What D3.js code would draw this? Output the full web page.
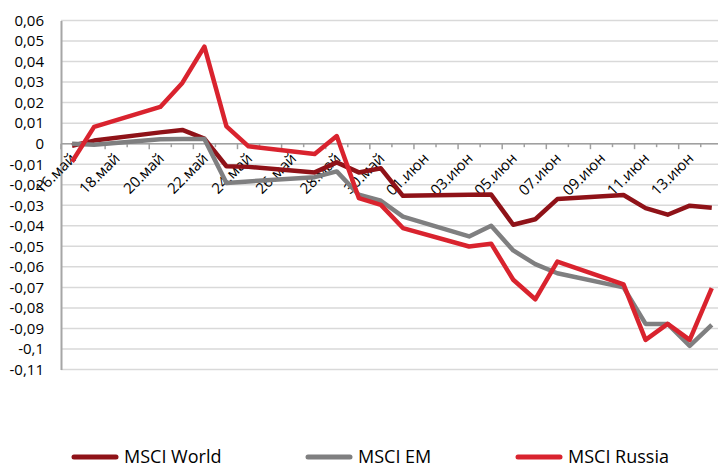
<!DOCTYPE html>
<html>
<head>
<meta charset="utf-8">
<script src="https://cdn.jsdelivr.net/npm/d3@7"></script>
<style>
  body { margin: 0; background: #fff; }
  svg { display: block; font-family: "Open Sans", "Noto Sans", sans-serif; }
</style>
</head>
<body>
<div id="chart"></div>
<script>
// trading days shown on the chart (2019)
const dates = [
  "2019-05-16", "2019-05-17", "2019-05-20", "2019-05-21", "2019-05-22",
  "2019-05-23", "2019-05-24", "2019-05-27", "2019-05-28", "2019-05-29",
  "2019-05-30", "2019-05-31", "2019-06-03", "2019-06-04", "2019-06-05",
  "2019-06-06", "2019-06-07", "2019-06-10", "2019-06-11", "2019-06-12",
  "2019-06-13", "2019-06-14"
];

const msciWorld = [
  -0.001, 0.0015, 0.0055, 0.0067, 0.0025, -0.011, -0.0113, -0.014, -0.0091, -0.014,
  -0.012, -0.0254, -0.0249, -0.0248, -0.0395, -0.0368, -0.027, -0.025, -0.0314, -0.0346,
  -0.0302, -0.0312
];
const msciEM = [
  0.0, -0.0005, 0.0022, 0.0023, 0.0023, -0.0192, -0.0184, -0.0163, -0.0135, -0.0249,
  -0.0278, -0.0355, -0.0452, -0.040, -0.052, -0.0587, -0.0631, -0.070, -0.0878, -0.0878,
  -0.0985, -0.0883
];
const msciRussia = [
  -0.0088, 0.0082, 0.0179, 0.0296, 0.0473, 0.0084, -0.0013, -0.005, 0.0037, -0.0265,
  -0.0298, -0.0411, -0.0501, -0.0487, -0.0663, -0.0758, -0.0574, -0.0685, -0.0956, -0.0878,
  -0.0956, -0.0704
];

const seriesNames = ["MSCI World", "MSCI EM", "MSCI Russia"];

// x tick labels, every second calendar day
const tickDates = [
  "2019-05-16", "2019-05-18", "2019-05-20", "2019-05-22", "2019-05-24", "2019-05-26",
  "2019-05-28", "2019-05-30", "2019-06-01", "2019-06-03", "2019-06-05", "2019-06-07",
  "2019-06-09", "2019-06-11", "2019-06-13"
];
const tickLabels = [
  "16.май", "18.май", "20.май", "22.май", "24.май", "26.май", "28.май", "30.май",
  "01.июн", "03.июн", "05.июн", "07.июн", "09.июн", "11.июн", "13.июн"
];

const width = 718;
const height = 468;
const margin = { top: 20.5, right: -4.8, bottom: 98.5, left: 61 };
const colors = ["#8f1218", "#7f7f80", "#d9232e"];

const parse = d3.timeParse("%Y-%m-%d");
const noon = (s) => d3.timeHour.offset(parse(s), 12);

const svg = d3.select("#chart")
  .append("svg")
  .attr("width", width)
  .attr("height", height);

const x = d3.scaleTime()
  .domain([parse("2019-05-16"), parse("2019-06-15")])
  .range([margin.left, width - margin.right]);

const y = d3.scaleLinear()
  .domain([-0.11, 0.06])
  .range([height - margin.bottom, margin.top]);

const fmt = d3.formatLocale({ decimal: ",", thousands: " ", grouping: [3], currency: ["", ""], minus: "-" }).format("~g");
const yTicks = d3.range(-11, 7).map((d) => d / 100);

// horizontal grid
svg.append("g")
  .selectAll("line")
  .data(yTicks)
  .join("line")
  .attr("x1", margin.left)
  .attr("x2", width - margin.right)
  .attr("y1", (d) => y(d))
  .attr("y2", (d) => y(d))
  .attr("stroke", "#d9d9d9")
  .attr("stroke-width", 1.5);

// y axis
const yAxis = svg.append("g")
  .attr("transform", `translate(${margin.left},0)`)
  .call(d3.axisLeft(y).tickValues(yTicks).tickFormat(fmt).tickSize(0).tickPadding(17));
yAxis.select(".domain").attr("stroke", "#a6a6a6").attr("stroke-width", 2);
yAxis.selectAll("text")
  .attr("fill", "#000")
  .style("font-size", "15px")
  .style("font-family", "'Open Sans', sans-serif");

// x axis at zero: minor ticks each day, longer ones every second day
const days = d3.timeDay.range(parse("2019-05-16"), parse("2019-06-16"));
const xAxis = svg.append("g").attr("transform", `translate(0,${y(0)})`);
xAxis.append("line")
  .attr("x1", margin.left)
  .attr("x2", width - margin.right)
  .attr("stroke", "#a0a0a0")
  .attr("stroke-width", 1.5);
xAxis.selectAll(".tk")
  .data(days)
  .join("line")
  .attr("class", "tk")
  .attr("x1", (d) => x(d))
  .attr("x2", (d) => x(d))
  .attr("y1", 0)
  .attr("y2", (d, i) => (i % 2 === 0 ? 5.5 : 3.5))
  .attr("stroke", "#a0a0a0")
  .attr("stroke-width", 1.5);
xAxis.selectAll(".lbl")
  .data(tickDates)
  .join("text")
  .attr("class", "lbl")
  .attr("transform", (d) => `translate(${x(noon(d)) + 1},12) rotate(-45)`)
  .attr("text-anchor", "end")
  .attr("dy", "0.35em")
  .style("font-size", "15px")
  .text((d, i) => tickLabels[i]);

// lines
const series = [msciWorld, msciEM, msciRussia];
const line = d3.line()
  .x((d, i) => x(noon(dates[i])))
  .y((d) => y(d));

svg.append("g")
  .selectAll("path")
  .data(series)
  .join("path")
  .attr("d", (d) => line(d))
  .attr("fill", "none")
  .attr("stroke", (d, i) => colors[i])
  .attr("stroke-width", 4.5)
  .attr("stroke-linejoin", "round");

// legend
const legendX = [72, 306, 516];
const legend = svg.append("g")
  .selectAll("g")
  .data(seriesNames)
  .join("g")
  .attr("transform", (d, i) => `translate(${legendX[i]},457)`);
legend.append("line")
  .attr("x1", 2)
  .attr("x2", 44)
  .attr("stroke", (d, i) => colors[i])
  .attr("stroke-width", 5)
  .attr("stroke-linecap", "round");
legend.append("text")
  .attr("x", 52)
  .attr("dy", "0.35em")
  .style("font-size", "18px")
  .text((d) => d);
</script>
</body>
</html>
